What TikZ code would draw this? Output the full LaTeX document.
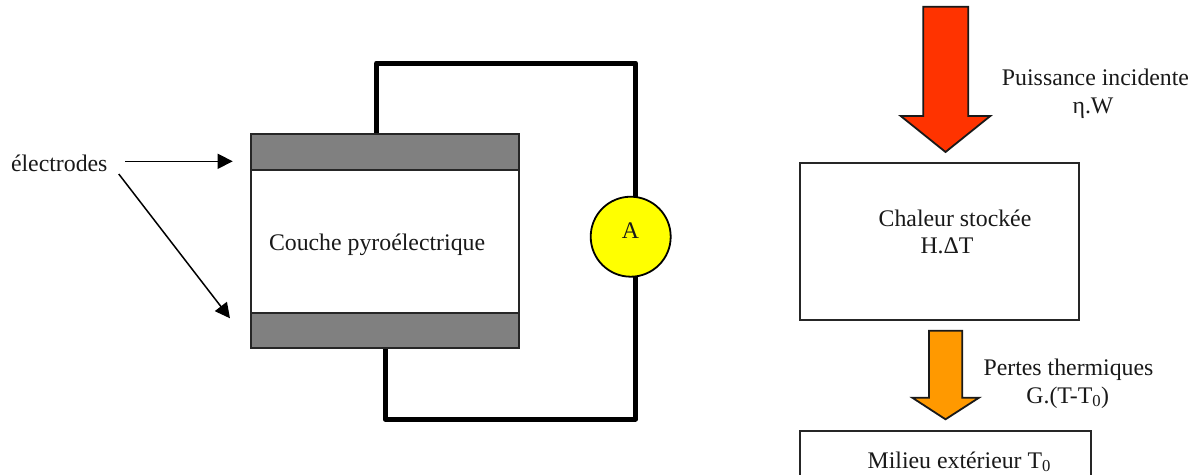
\documentclass[tikz,border=0pt]{standalone}
\usepackage{fontspec}
\setmainfont{Liberation Serif}
\usetikzlibrary{arrows.meta,backgrounds}
\definecolor{ampyellow}{RGB}{255,255,0}
\definecolor{hotred}{RGB}{255,51,0}
\definecolor{lossorange}{RGB}{255,153,0}
\definecolor{electrodegray}{RGB}{128,128,128}
\tikzset{
  x=1pt,y=-1pt,
  lab/.style={inner sep=0pt,outer sep=0pt,anchor=base,font=\fontsize{23.8}{26}\selectfont,text=black!90},
  labw/.style={lab,anchor=base west},
  box/.style={draw=black!85,line width=1.8pt,fill=white,rectangle,inner sep=0pt,outer sep=0pt},
  electrode/.style={box,fill=electrodegray,minimum width=268.3pt,minimum height=36pt},
  wire/.style={line width=5pt,line join=round,draw=black},
  pointer/.style={line width=1.5pt,draw=black,-{Triangle[length=15pt,width=15pt]}},
  block/.style={draw=black!90,line width=1.8pt,line join=miter},
}
\begin{document}
\begin{tikzpicture}
\useasboundingbox (0,0) rectangle (1199,474);
\clip (0,0) rectangle (1199,474);
% left device
\node[box,minimum width=268.3pt,minimum height=143pt] (layer) at (384.85,241.5) {};
\node[electrode] (elecTop) at (384.85,152) {};
\node[electrode,minimum height=35.5pt] (elecBot) at (384.85,330.5) {};
\node[labw] (layerText) at (269,250.5) {Couche pyroélectrique};
\node[circle,draw=black,line width=1.8pt,fill=ampyellow,minimum size=80pt,inner sep=0pt,outer sep=0pt] (amp) at (630.7,236.7) {};
\node[lab] (ampText) at (630.5,238) {A};
\coordinate (wireTop) at (376.7,63);
\coordinate (wireBot) at (385,419);
\begin{scope}[on background layer]
\draw[wire] (wireTop |- elecTop.north) -- (wireTop) -| (amp.83);
\draw[wire] (wireBot |- elecBot.south) -- (wireBot) -| (amp.-83);
\end{scope}
% electrodes label and pointers
\node[labw] (elecText) at (11,171) {électrodes};
\draw[pointer] ([shift={(17.7,-9.7)}]elecText.base east) -- ([shift={(-18,9.3)}]elecTop.west);
\draw[pointer] ([shift={(11.3,3)}]elecText.base east) -- ([shift={(-20.7,-12.2)}]elecBot.west);
% right column
\draw[block,fill=hotred]
  (923.3,6.7) -- (968.3,6.7) -- (968.3,116) -- (990.3,116) -- (945.5,152) -- (900.7,116) -- (923.3,116) -- cycle;
\node[box,minimum width=279pt,minimum height=156.4pt] (stored) at (939.8,241.5) {};
\draw[block,fill=lossorange]
  (929,330.7) -- (962.3,330.7) -- (962.3,397.7) -- (979,397.7) -- (945.5,419.3) -- (912.3,397.7) -- (929,397.7) -- cycle;
\node[box,minimum width=290.4pt,minimum height=80pt] (outside) at (945.5,471) {};
\node[lab] (t1) at (1095.5,85.5) {Puissance incidente};
\node[lab] (t2) at (1093,113) {η.W};
\node[lab] (t3) at (955,226) {Chaleur stockée};
\node[lab] (t4) at (947,253) {H.ΔT};
\node[lab] (t5) at (1068.5,375.5) {Pertes thermiques};
\node[lab] (t6) at (1067.7,403) {G.(T-T\textsubscript{0})};
\node[lab] (t7) at (959.3,468) {Milieu extérieur T\textsubscript{0}};
\end{tikzpicture}
\end{document}
